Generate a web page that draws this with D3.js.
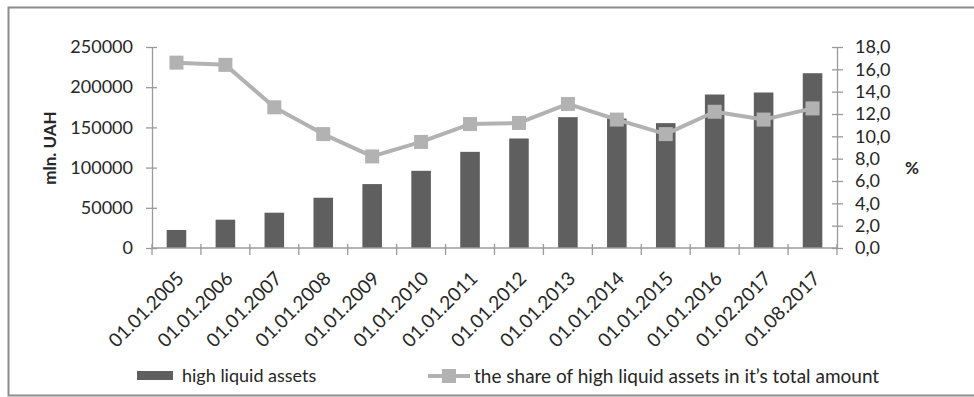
<!DOCTYPE html>
<html>
<head>
<meta charset="utf-8">
<script src="https://cdn.jsdelivr.net/npm/d3@7"></script>
<style>
  html, body { margin: 0; padding: 0; background: #fff; }
  svg { display: block; }
  text { font-family: Lato, "Open Sans", sans-serif; fill: #262626; }
</style>
</head>
<body>
<svg id="chart" width="974" height="397"></svg>
<script>
// Reporting dates
const dates = ["01.01.2005","01.01.2006","01.01.2007","01.01.2008","01.01.2009","01.01.2010","01.01.2011",
               "01.01.2012","01.01.2013","01.01.2014","01.01.2015","01.01.2016","01.02.2017","01.08.2017"];
// High liquid assets, mln. UAH
const assets = [22400, 35200, 43900, 62500, 79500, 96000, 119600, 136200, 162700, 161000, 155300, 190900, 193400, 217400];
// Share of high liquid assets in total amount, %
const share = [16.6, 16.4, 12.6, 10.2, 8.2, 9.5, 11.1, 11.2, 12.9, 11.5, 10.2, 12.2, 11.5, 12.5];
// Axis ticks
const leftTicks = [0, 50000, 100000, 150000, 200000, 250000];
const rightTicks = [0, 2, 4, 6, 8, 10, 12, 14, 16, 18];

const seriesNames = ["high liquid assets", "the share of high liquid assets in it\u2019s total amount"];

const svg = d3.select("#chart");
const plot = { left: 152, right: 837, top: 47, bottom: 248 };
const axisColor = "#9a9a9a";
const barColor = "#5f5f5f";
const lineColor = "#b2b2b2";

// outer frame (right edge falls outside the canvas)
svg.append("path")
  .attr("d", "M975,7.5 H8.5 V395.5 H975")
  .attr("fill", "none").attr("stroke", "#8c8c8c").attr("stroke-width", 2);

const x = d3.scaleBand().domain(dates).range([plot.left, plot.right]).paddingInner(0.6).paddingOuter(0.3);
const xBand = d3.scaleBand().domain(dates).range([plot.left, plot.right]);
const yL = d3.scaleLinear().domain([0, 250000]).range([plot.bottom, plot.top]);
const yR = d3.scaleLinear().domain([0, 18]).range([plot.bottom, plot.top]);

// bars
svg.append("g").selectAll("rect").data(assets).join("rect")
  .attr("x", (d, i) => x(dates[i]))
  .attr("width", x.bandwidth())
  .attr("y", d => yL(d))
  .attr("height", d => yL(0) - yL(d))
  .attr("fill", barColor);

// axes
function styleAxis(g) {
  g.selectAll("path, line").attr("stroke", axisColor).attr("stroke-width", 1.3);
  g.selectAll("text").attr("fill", "#262626").style("font-size", "18px");
}

const gL = svg.append("g").attr("transform", `translate(${plot.left},0)`)
  .call(d3.axisLeft(yL).tickValues(leftTicks).tickFormat(d3.format("d")).tickSizeInner(5).tickSizeOuter(0).tickPadding(14));
styleAxis(gL);
gL.selectAll(".tick line").attr("x1", 5).attr("x2", -6);

const gR = svg.append("g").attr("transform", `translate(${plot.right},0)`)
  .call(d3.axisRight(yR).tickValues(rightTicks).tickFormat(d => d.toFixed(1).replace(".", ",")).tickSizeInner(5).tickSizeOuter(0).tickPadding(13));
styleAxis(gR);
gR.selectAll(".tick line").attr("x1", -5).attr("x2", 6);

// category axis with boundary ticks
const gX = svg.append("g").attr("transform", `translate(0,${plot.bottom})`);
gX.append("line").attr("x1", plot.left).attr("x2", plot.right).attr("stroke", axisColor).attr("stroke-width", 1.3);
const bounds = dates.map(d => xBand(d)).concat([plot.right]);
gX.selectAll("line.tk").data(bounds).join("line").attr("class", "tk")
  .attr("x1", d => d).attr("x2", d => d).attr("y1", -4).attr("y2", 7)
  .attr("stroke", axisColor).attr("stroke-width", 1.3);
gX.selectAll("text").data(dates).join("text")
  .attr("transform", d => `translate(${xBand(d) + xBand.bandwidth() / 2 + 4},${27}) rotate(-45)`)
  .attr("text-anchor", "end")
  .attr("dy", "0.35em")
  .style("font-size", "19px")
  .text(d => d);

// share line with square markers
const cx = i => xBand(dates[i]) + xBand.bandwidth() / 2;
svg.append("path").datum(share)
  .attr("d", d3.line().x((d, i) => cx(i)).y(d => yR(d)))
  .attr("fill", "none").attr("stroke", lineColor).attr("stroke-width", 4).attr("stroke-linejoin", "round");
svg.append("g").selectAll("rect").data(share).join("rect")
  .attr("x", (d, i) => cx(i) - 7).attr("y", d => yR(d) - 7)
  .attr("width", 14).attr("height", 14).attr("fill", lineColor);

// axis titles
svg.append("text").attr("transform", "translate(56,148) rotate(-90)")
  .attr("text-anchor", "middle").style("font-size", "17px").style("font-weight", "bold").text("mln. UAH");
svg.append("text").attr("x", 912).attr("y", 168).attr("dy", "0.35em")
  .attr("text-anchor", "middle").style("font-size", "17px").style("font-weight", "bold").text("%");

// legend
const lg = svg.append("g");
lg.append("rect").attr("x", 137).attr("y", 371).attr("width", 36).attr("height", 9).attr("fill", barColor);
lg.append("text").attr("x", 182).attr("y", 376).attr("dy", "0.35em").style("font-size", "18px").text(seriesNames[0]);
lg.append("line").attr("x1", 428).attr("x2", 470).attr("y1", 376).attr("y2", 376)
  .attr("stroke", lineColor).attr("stroke-width", 4);
lg.append("rect").attr("x", 442).attr("y", 369).attr("width", 14).attr("height", 14).attr("fill", lineColor);
lg.append("text").attr("x", 474).attr("y", 376).attr("dy", "0.35em").style("font-size", "19px").text(seriesNames[1]);
</script>
</body>
</html>
